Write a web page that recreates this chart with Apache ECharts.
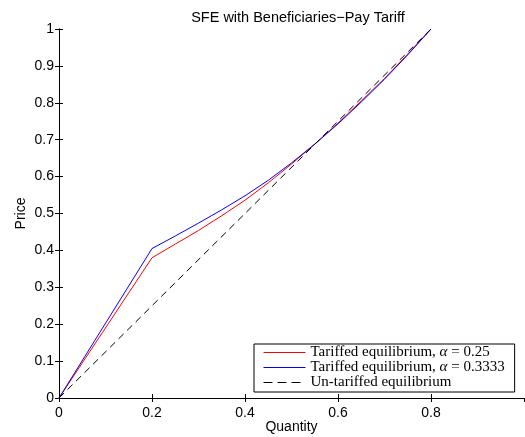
<!DOCTYPE html>
<html>
<head>
<meta charset="utf-8">
<script src="https://cdn.jsdelivr.net/npm/echarts@6/dist/echarts.min.js"></script>
<style>html,body{margin:0;padding:0;background:#fff;}#c{width:525px;height:437px;}</style>
</head>
<body>
<div id="c"></div>
<script>
const titleText = 'SFE with Beneficiaries\u2212Pay Tariff';
const xName = 'Quantity';
const yName = 'Price';
const xTickLabels = ['0', '0.2', '0.4', '0.6', '0.8', '1'];
const yTickLabels = ['0', '0.1', '0.2', '0.3', '0.4', '0.5', '0.6', '0.7', '0.8', '0.9', '1'];

const qRed = [0, 0.2, 0.25, 0.3, 0.35, 0.4, 0.45, 0.5, 0.55, 0.6, 0.65, 0.7, 0.75, 0.8];
const pRed = [0, 0.38, 0.417, 0.454, 0.494, 0.536, 0.583, 0.634, 0.688, 0.745, 0.805, 0.866, 0.932, 1.0];

const qBlue = [0, 0.2, 0.25, 0.3, 0.35, 0.4, 0.45, 0.5, 0.55, 0.6, 0.65, 0.7, 0.75, 0.8];
const pBlue = [0, 0.405, 0.439, 0.474, 0.51, 0.548, 0.59, 0.637, 0.688, 0.743, 0.802, 0.864, 0.93, 1.0];

const qBase = [0, 0.8];
const pBase = [0, 1.0];

const nameRed = 'Tariffed equilibrium, \u03b1 = 0.25';
const nameBlue = 'Tariffed equilibrium, \u03b1 = 0.3333';
const nameBase = 'Un-tariffed equilibrium';

const zip = (a, b) => a.map((v, i) => [v, b[i]]);

const chart = echarts.init(document.getElementById('c'), null, {renderer: 'canvas'});
const axisCommon = {
  type: 'value', min: 0, max: 1,
  axisLine: {show: true, lineStyle: {color: '#000', width: 1}},
  axisTick: {show: true, inside: true, length: 4, lineStyle: {color: '#000', width: 1}},
  splitLine: {show: false}
};
const sansStyle = {fontFamily: 'Liberation Sans', fontSize: 14, color: '#000'};
chart.setOption({
  animation: false,
  backgroundColor: '#fff',
  title: {
    text: titleText, left: 293, top: 5, textAlign: 'center',
    textStyle: Object.assign({fontWeight: 'normal'}, sansStyle, {fontSize: 14.5})
  },
  grid: {left: 59, right: 1, top: 29, bottom: 39, containLabel: false, outerBoundsMode: 'none'},
  xAxis: [
    Object.assign({}, axisCommon, {
      position: 'bottom', interval: 0.2,
      name: xName, nameLocation: 'middle', nameGap: 22, nameMoveOverlap: false,
      nameTextStyle: sansStyle,
      axisLabel: Object.assign({
        show: true, margin: 8, showMaxLabel: false,
        formatter: v => xTickLabels[Math.round(v / 0.2)]
      }, sansStyle)
    }),
    Object.assign({}, axisCommon, {
      position: 'top', interval: 0.2, axisLabel: {show: false}
    })
  ],
  yAxis: [
    Object.assign({}, axisCommon, {
      position: 'left', interval: 0.1,
      name: yName, nameLocation: 'middle', nameGap: 31, nameRotate: 90, nameMoveOverlap: false,
      nameTextStyle: sansStyle,
      axisLabel: Object.assign({
        show: true, margin: 5,
        formatter: v => yTickLabels[Math.round(v / 0.1)]
      }, sansStyle)
    }),
    Object.assign({}, axisCommon, {
      position: 'right', interval: 0.1, axisLabel: {show: false}
    })
  ],
  legend: {
    orient: 'vertical', left: 254, top: 344,
    backgroundColor: '#fff', borderColor: '#000', borderWidth: 1,
    padding: [1, 10, 2, 9], itemGap: 0, itemWidth: 42, itemHeight: 12,
    itemStyle: {opacity: 0},
    data: [
      {name: nameRed, lineStyle: {width: 1, color: '#ff0000'}},
      {name: nameBlue, lineStyle: {width: 1, color: '#0000ff'}},
      {name: nameBase, lineStyle: {width: 1, color: '#000', type: [9, 5]}}
    ],
    textStyle: {
      fontFamily: 'Liberation Serif', fontSize: 15, color: '#000', lineHeight: 13,
      rich: {i: {fontFamily: 'Liberation Serif', fontStyle: 'italic', fontSize: 15, color: '#000', lineHeight: 13}}
    },
    formatter: n => n.replace('\u03b1', '{i|\u03b1}')
  },
  series: [
    {name: nameRed, type: 'line', data: zip(qRed, pRed), symbol: 'none', smooth: false,
     xAxisIndex: 0, yAxisIndex: 0,
     lineStyle: {color: '#ff0000', width: 1}, itemStyle: {color: '#ff0000'}},
    {name: nameBlue, type: 'line', data: zip(qBlue, pBlue), symbol: 'none', smooth: false,
     xAxisIndex: 0, yAxisIndex: 0,
     lineStyle: {color: '#0000ff', width: 1}, itemStyle: {color: '#0000ff'}},
    {name: nameBase, type: 'line', data: zip(qBase, pBase), symbol: 'none',
     xAxisIndex: 0, yAxisIndex: 0,
     lineStyle: {color: '#000', width: 1, type: [7, 5]}, itemStyle: {color: '#000'}}
  ]
});
</script>
</body>
</html>
